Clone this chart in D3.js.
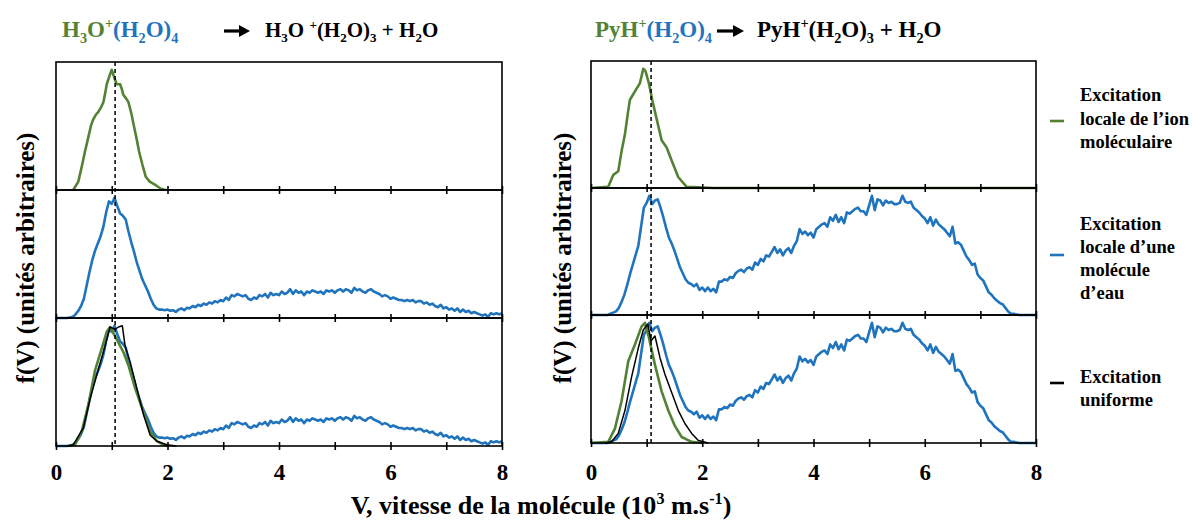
<!DOCTYPE html>
<html><head><meta charset="utf-8">
<script src="https://cdn.jsdelivr.net/npm/d3@7"></script>
<style>body{margin:0;background:#fff} svg{display:block}</style>
</head><body><svg id="c" width="1192" height="522"></svg>
<script>
// ---------- DATA ----------
const xTicks = [0,1,2,3,4,5,6,7,8];
const xTickLabels = ["0","","2","","4","","6","","8"];
const dashPos = [1.06, 1.08];
const gridStep = 0.05; // sampling step of the blue histograms (10^3 m/s)

// H3O+(H2O)4 : local excitation of the ion (green), panel 1
const greenL1 = [[0.31,0],[0.40,0.07],[0.46,0.19],[0.52,0.32],[0.58,0.44],[0.63,0.54],[0.67,0.59],[0.72,0.63],[0.76,0.65],[0.81,0.69],[0.85,0.73],[0.88,0.80],[0.91,0.88],[0.96,0.95],[1.0,1.0],[1.05,0.93],[1.09,0.88],[1.15,0.88],[1.18,0.84],[1.21,0.79],[1.26,0.76],[1.30,0.73],[1.35,0.64],[1.39,0.55],[1.44,0.44],[1.49,0.32],[1.55,0.21],[1.61,0.11],[1.68,0.07],[1.79,0.04],[1.88,0.01],[1.97,0]];
// H3O+(H2O)4 : local excitation of a water molecule (blue), values every 0.05
const blueL = [0,0,0,0,0,0.005,0.01,0.03,0.06,0.10,
0.16,0.27,0.38,0.48,0.56,0.62,0.68,0.76,0.88,0.97,
0.95,1.00,0.93,0.87,0.85,0.82,0.72,0.63,0.55,0.46,
0.39,0.32,0.27,0.22,0.16,0.11,0.08,0.07,0.07,0.065,
0.07,0.06,0.065,0.05,0.07,0.08,0.065,0.085,0.08,0.10,
0.09,0.11,0.10,0.12,0.11,0.13,0.12,0.14,0.13,0.15,
0.14,0.17,0.15,0.19,0.18,0.20,0.19,0.18,0.19,0.16,
0.15,0.17,0.16,0.19,0.18,0.20,0.17,0.21,0.19,0.20,
0.19,0.22,0.20,0.21,0.24,0.20,0.23,0.21,0.22,0.19,
0.22,0.21,0.23,0.22,0.21,0.22,0.20,0.23,0.22,0.23,
0.21,0.23,0.24,0.22,0.24,0.23,0.21,0.25,0.23,0.24,
0.22,0.21,0.23,0.24,0.22,0.21,0.20,0.18,0.19,0.18,
0.16,0.17,0.16,0.15,0.15,0.14,0.15,0.14,0.15,0.13,
0.14,0.14,0.12,0.13,0.11,0.12,0.10,0.09,0.11,0.08,
0.09,0.07,0.08,0.06,0.08,0.05,0.07,0.05,0.06,0.04,
0.05,0.04,0.03,0.02,0.03,0.01,0.04,0.03,0.04,0.03,0.04];
// H3O+(H2O)4 panel 3 : ion (green) and uniform (black)
const greenL3 = [[0.25,0],[0.34,0.01],[0.46,0.12],[0.58,0.34],[0.70,0.63],[0.82,0.81],[0.91,0.95],[0.97,0.99],[1.05,0.92],[1.12,0.86],[1.21,0.78],[1.30,0.67],[1.42,0.48],[1.57,0.28],[1.69,0.12],[1.81,0.04],[1.93,0.01],[2.0,0]];
const blackL3 = [[0.2,0],[0.31,0.01],[0.49,0.15],[0.61,0.39],[0.76,0.64],[0.88,0.83],[0.97,0.99],[1.06,0.97],[1.12,0.99],[1.19,1.0],[1.24,0.83],[1.33,0.70],[1.45,0.48],[1.57,0.26],[1.69,0.09],[1.81,0.04],[1.99,0.01],[2.16,0]];

// PyH+(H2O)4 : ion (green), panel 1
const greenR1 = [[0,0],[0.31,0.01],[0.40,0.11],[0.49,0.14],[0.55,0.31],[0.61,0.45],[0.66,0.62],[0.70,0.74],[0.79,0.81],[0.88,0.88],[0.94,1.0],[0.98,0.98],[1.04,0.88],[1.10,0.74],[1.18,0.58],[1.27,0.40],[1.36,0.34],[1.45,0.23],[1.57,0.09],[1.72,0.01],[1.93,0.005],[2.2,0],[8,0]];
// PyH+(H2O)4 : water molecule (blue), values every 0.05
const blueR = [0,0,0,0,0,0,0,0.01,0.02,0.03,
0.06,0.11,0.17,0.25,0.34,0.42,0.50,0.58,0.74,0.90,
0.94,1.00,0.93,0.96,0.97,0.90,0.82,0.73,0.65,0.60,
0.54,0.47,0.40,0.35,0.30,0.27,0.26,0.24,0.26,0.21,
0.23,0.20,0.23,0.20,0.22,0.19,0.28,0.28,0.30,0.29,
0.32,0.31,0.35,0.37,0.38,0.36,0.39,0.40,0.38,0.44,
0.42,0.47,0.45,0.50,0.49,0.53,0.57,0.52,0.55,0.50,
0.54,0.56,0.52,0.58,0.62,0.72,0.68,0.70,0.67,0.69,
0.65,0.72,0.74,0.76,0.77,0.74,0.82,0.79,0.84,0.78,
0.82,0.77,0.86,0.85,0.87,0.89,0.90,0.87,0.87,0.84,
0.92,1.00,0.88,0.97,0.96,0.92,0.96,0.94,0.95,0.93,
0.93,0.94,1.00,0.95,0.94,0.95,0.90,0.88,0.86,0.83,
0.81,0.77,0.82,0.75,0.80,0.76,0.74,0.72,0.69,0.66,
0.74,0.60,0.61,0.59,0.54,0.49,0.46,0.42,0.43,0.34,
0.31,0.29,0.24,0.19,0.17,0.14,0.12,0.10,0.09,0.06,
0.03,0.01,0.01,0.005,0,0,0,0,0,0,0];
// PyH+(H2O)4 panel 3 : ion (green) and uniform (black)
const greenR3 = [[0,0],[0.31,0.01],[0.43,0.12],[0.55,0.35],[0.67,0.68],[0.79,0.82],[0.91,0.97],[0.97,1.0],[1.04,0.88],[1.15,0.65],[1.27,0.43],[1.39,0.27],[1.51,0.14],[1.63,0.05],[1.81,0.01],[2.0,0]];
const blackR3 = [[0.25,0],[0.37,0.01],[0.49,0.08],[0.61,0.27],[0.73,0.55],[0.85,0.79],[0.94,0.94],[1.02,0.99],[1.08,0.85],[1.15,0.89],[1.24,0.71],[1.33,0.57],[1.45,0.42],[1.57,0.27],[1.69,0.16],[1.81,0.08],[1.93,0.02],[2.11,0]];

const legendItems = [
  {color:"green", lines:["Excitation","locale de l\u2019ion","mol\u00e9culaire"]},
  {color:"blue",  lines:["Excitation","locale d\u2019une","mol\u00e9cule","d\u2019eau"]},
  {color:"black", lines:["Excitation","uniforme"]}
];

// ---------- STYLE ----------
const COL = {green:"#548235", blue:"#1f74bd", black:"#000"};
const FONT = "'Liberation Serif','Times New Roman',serif";

const svg = d3.select("#c");
const toPairs = arr => arr.map((f,i)=>[+(i*gridStep).toFixed(2), f]);

const columns = [
  {x0:56, x1:502, rows:[62,190,318,446], dash:dashPos[0],
   panels:[[["green",greenL1,2.6]],[["blue",toPairs(blueL),2.6]],[["blue",toPairs(blueL),2.6],["green",greenL3,2.6],["black",blackL3,1.5]]]},
  {x0:591, x1:1036, rows:[61,188,315,443], dash:dashPos[1],
   panels:[[["green",greenR1,2.6]],[["blue",toPairs(blueR),2.6]],[["blue",toPairs(blueR),2.6],["green",greenR3,2.6],["black",blackR3,1.5]]]}
];

columns.forEach(col=>{
  const x = d3.scaleLinear().domain([0,8]).range([col.x0,col.x1]);
  col.panels.forEach((series,pi)=>{
    const top = col.rows[pi], bot = col.rows[pi+1];
    const y = d3.scaleLinear().domain([0,1.065]).range([bot,top]);
    const g = svg.append("g");
    const line = d3.line().x(d=>x(d[0])).y(d=>y(d[1]));
    series.forEach(([c,data,w])=>{
      g.append("path").datum(data).attr("d",line).attr("fill","none")
        .attr("stroke",COL[c]).attr("stroke-width",w).attr("stroke-linejoin","round");
    });
    g.append("rect").attr("x",col.x0).attr("y",top).attr("width",col.x1-col.x0).attr("height",bot-top)
      .attr("fill","none").attr("stroke","#000").attr("stroke-width",1.6);
    const ax = g.append("g").attr("transform",`translate(0,${bot})`)
      .call(d3.axisBottom(x).tickValues(xTicks).tickSize(4).tickFormat(""));
    ax.select(".domain").remove();
    ax.selectAll(".tick line").attr("y1",-4).attr("y2",4).attr("stroke","#000").attr("stroke-width",1.6);
  });
  svg.append("line").attr("x1",x(col.dash)).attr("x2",x(col.dash))
    .attr("y1",col.rows[0]).attr("y2",col.rows[3])
    .attr("stroke","#000").attr("stroke-width",1.5).attr("stroke-dasharray","4,3");
  const lab = svg.append("g").attr("transform",`translate(0,${col.rows[3]})`)
    .call(d3.axisBottom(x).tickValues(xTicks).tickSize(0).tickFormat((d,i)=>xTickLabels[i]));
  lab.select(".domain").remove();
  lab.selectAll("text").attr("font-family",FONT).attr("font-weight","bold")
    .attr("font-size",23).attr("fill","#000").attr("dy",null)
    .attr("y", 480 - col.rows[3]);
});

// ---------- rich text helper ----------
function rich(parent, x, y, segs, size, anchor){
  const t = parent.append("text").attr("x",x).attr("y",y)
    .attr("font-family",FONT).attr("font-weight","bold").attr("font-size",size)
    .attr("text-anchor",anchor||"start");
  let cur = 0;
  segs.forEach(s=>{
    const shift = s.s==="sub" ? size*0.25 : s.s==="sup" ? -size*0.38 : 0;
    t.append("tspan").attr("dy",shift-cur)
      .attr("font-size", s.s ? size*0.62 : size)
      .attr("fill", COL[s.c||"black"]).text(s.t);
    cur = shift;
  });
  return t;
}
function arrow(x0,x1,y){
  svg.append("path").attr("d",`M${x0},${y}H${x1-9}`).attr("stroke","#000").attr("stroke-width",3.2);
  svg.append("path").attr("d",`M${x1-11},${y-6}L${x1},${y}L${x1-11},${y+6}Z`).attr("fill","#000");
}

// titles
rich(svg,62,37,[{t:"H",c:"green"},{t:"3",c:"green",s:"sub"},{t:"O",c:"green"},{t:"+",c:"green",s:"sup"},
  {t:"(H",c:"blue"},{t:"2",c:"blue",s:"sub"},{t:"O)",c:"blue"},{t:"4",c:"blue",s:"sub"}],23);
arrow(224,250,31);
rich(svg,265,37,[{t:"H"},{t:"3",s:"sub"},{t:"O "},{t:"+",s:"sup"},{t:"(H"},{t:"2",s:"sub"},{t:"O)"},{t:"3",s:"sub"},
  {t:" + H"},{t:"2",s:"sub"},{t:"O"}],21);

rich(svg,595,37,[{t:"PyH",c:"green"},{t:"+",c:"green",s:"sup"},
  {t:"(H",c:"blue"},{t:"2",c:"blue",s:"sub"},{t:"O)",c:"blue"},{t:"4",c:"blue",s:"sub"}],23);
arrow(717,744,31);
rich(svg,757,37,[{t:"PyH"},{t:"+",s:"sup"},{t:"(H"},{t:"2",s:"sub"},{t:"O)"},{t:"3",s:"sub"},
  {t:" + H"},{t:"2",s:"sub"},{t:"O"}],23);

// y axis titles
[25,562].forEach(cx=>{
  svg.append("text").attr("transform",`translate(${cx},258) rotate(-90)`)
    .attr("text-anchor","middle").attr("dy","0.35em")
    .attr("font-family",FONT).attr("font-weight","bold").attr("font-size",25)
    .text("f(V) (unit\u00e9s arbitraires)");
});

// x axis title
rich(svg,541,514,[{t:"V, vitesse de la mol\u00e9cule (10"},{t:"3",s:"sup"},{t:" m.s"},{t:"-1",s:"sup"},{t:")"}],26,"middle");

// legend
const legY = [[101,124.5,148],[230,253,276,299],[383,406]];
const legMark = [121,255,383];
legendItems.forEach((it,i)=>{
  svg.append("line").attr("x1",1050).attr("x2",1064).attr("y1",legMark[i]).attr("y2",legMark[i])
    .attr("stroke",COL[it.color]).attr("stroke-width",2.6);
  it.lines.forEach((l,j)=>{
    svg.append("text").attr("x",1080).attr("y",legY[i][j]).attr("font-family",FONT)
      .attr("font-weight","bold").attr("font-size",18.5).attr("fill","#000").text(l);
  });
});
</script>
</body></html>
